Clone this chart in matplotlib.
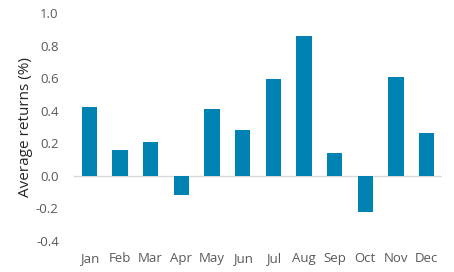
import matplotlib
matplotlib.use("Agg")
import matplotlib.pyplot as plt

months = ["Jan", "Feb", "Mar", "Apr", "May", "Jun", "Jul", "Aug", "Sep", "Oct", "Nov", "Dec"]
returns = [0.423, 0.16, 0.21, -0.117, 0.41, 0.28, 0.595, 0.86, 0.14, -0.22, 0.607, 0.265]
yticks = [-0.4, -0.2, 0.0, 0.2, 0.4, 0.6, 0.8, 1.0]

plt.rcParams['font.family'] = ['Open Sans', 'DejaVu Sans']
fig = plt.figure(figsize=(4.54, 2.72), dpi=100)
W, H = 454, 272
ax = fig.add_axes([74 / W, 1 - 241 / H, (442 - 74) / W, (241 - 13) / H])
x = range(len(months))
ax.bar(x, returns, width=0.5, color="#0083B3", zorder=2)
ax.axhline(0, color="#D9D9D9", lw=1, zorder=1)
ax.set_xlim(-0.5, len(months) - 0.5)
ax.set_ylim(-0.4, 1.0)
ax.set_yticks(yticks)
ax.set_yticklabels([f"{v:.1f}" for v in yticks])
ax.set_xticks(list(x))
ax.set_xticklabels(months)
for s in ax.spines.values():
    s.set_visible(False)
ax.tick_params(length=0, labelsize=9.5, colors="#595959")
ax.tick_params(axis='x', pad=8)
ax.tick_params(axis='y', pad=11)
ax.set_ylabel("Average returns (%)", fontsize=11, color="#262626", labelpad=2)
fig.savefig("out.png", dpi=100)
